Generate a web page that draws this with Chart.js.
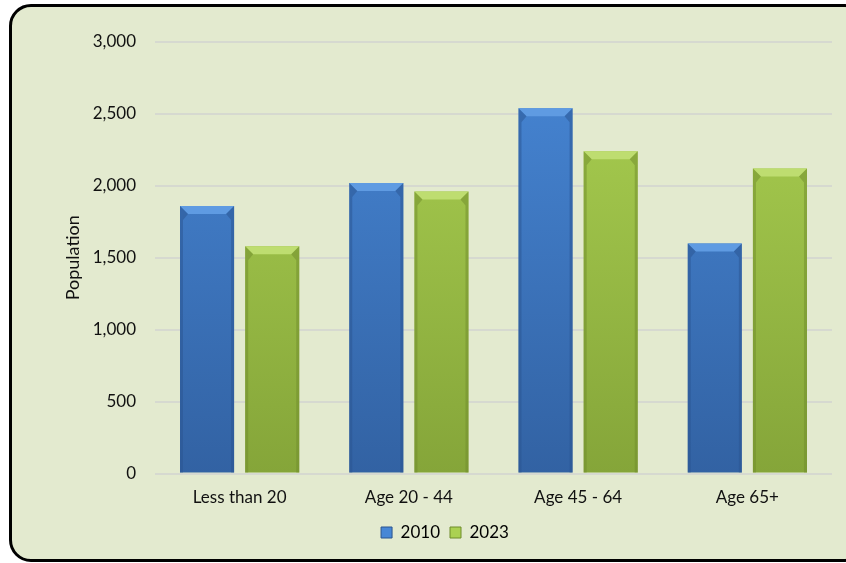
<!DOCTYPE html>
<html>
<head>
<meta charset="utf-8">
<script src="https://cdn.jsdelivr.net/npm/chart.js@4"></script>
<style>
  html, body { margin: 0; padding: 0; width: 846px; height: 563px; overflow: hidden; background: #ffffff; }
  #panel {
    position: absolute; left: 9px; top: 4px; width: 852px; height: 552px;
    border: 3px solid #000; border-radius: 22px; background: #e3eacf;
  }
  #wrap { position: absolute; left: 0; top: 0; width: 846px; height: 563px; }
</style>
</head>
<body>
<div id="panel"></div>
<div id="wrap"><canvas id="grafico" width="846" height="563"></canvas></div>
<script>
const categorias = ['Less than 20', 'Age 20 - 44', 'Age 45 - 64', 'Age 65+'];
const valores2010 = [1860, 2020, 2540, 1600];
const valores2023 = [1580, 1960, 2240, 2120];
const ticksY = [0, 500, 1000, 1500, 2000, 2500, 3000];

const azul = { topo: '#4787d6', base: '#3262a3', claro: '#5f9be2', escuro: '#2a548f' };
const verde = { topo: '#abd152', base: '#85a539', claro: '#bedd70', escuro: '#6f8c2b' };

// gradiente vertical do preenchimento
function gradiente(ctx, cor) {
    const area = ctx.chart.chartArea;
    if (!area) return cor.topo;
    const g = ctx.chart.ctx.createLinearGradient(0, area.top, 0, area.bottom);
    g.addColorStop(0, cor.topo);
    g.addColorStop(1, cor.base);
    return g;
}

// efeito de chanfro nas barras
const chanfro = {
    id: 'chanfro',
    afterDatasetsDraw(chart) {
        const ctx = chart.ctx;
        chart.data.datasets.forEach((ds, i) => {
            const cor = i === 0 ? azul : verde;
            chart.getDatasetMeta(i).data.forEach(bar => {
                const x0 = bar.x - bar.width / 2, x1 = bar.x + bar.width / 2;
                const y0 = bar.y, y1 = bar.base;
                const b = 8, s = 3;
                ctx.save();
                // faixa de cima
                ctx.fillStyle = cor.claro;
                ctx.beginPath();
                ctx.moveTo(x0, y0); ctx.lineTo(x1, y0); ctx.lineTo(x1 - b, y0 + b); ctx.lineTo(x0 + b, y0 + b);
                ctx.closePath(); ctx.fill();
                // laterais
                ctx.fillStyle = cor.escuro;
                ctx.globalAlpha = 0.5;
                ctx.beginPath();
                ctx.moveTo(x0, y0); ctx.lineTo(x0 + b, y0 + b); ctx.lineTo(x0 + s, y0 + b + 6); ctx.lineTo(x0 + s, y1); ctx.lineTo(x0, y1);
                ctx.closePath(); ctx.fill();
                ctx.beginPath();
                ctx.moveTo(x1, y0); ctx.lineTo(x1 - b, y0 + b); ctx.lineTo(x1 - s, y0 + b + 6); ctx.lineTo(x1 - s, y1); ctx.lineTo(x1, y1);
                ctx.closePath(); ctx.fill();
                ctx.restore();
            });
        });
    }
};

const grafico = new Chart(document.getElementById('grafico').getContext('2d'), {
    type: 'bar',
    data: {
        labels: categorias,
        datasets: [
            { label: '2010', data: valores2010, backgroundColor: ctx => gradiente(ctx, azul), borderWidth: 0 },
            { label: '2023', data: valores2023, backgroundColor: ctx => gradiente(ctx, verde), borderWidth: 0 }
        ]
    },
    options: {
        responsive: false,
        animation: false,
        devicePixelRatio: 1,
        categoryPercentage: 0.77,
        barPercentage: 0.83,
        layout: { padding: { left: 58, right: 14, top: 42, bottom: 12 } },
        plugins: {
            tooltip: { enabled: false },
            legend: {
                position: 'bottom',
                labels: {
                    boxWidth: 11, boxHeight: 11, padding: 10,
                    font: { family: 'Lato', size: 17 }, color: '#111',
                    generateLabels: chart => chart.data.datasets.map((ds, i) => ({
                        text: ds.label, fillStyle: i === 0 ? azul.topo : verde.topo,
                        strokeStyle: i === 0 ? azul.escuro : verde.escuro, lineWidth: 1, datasetIndex: i
                    }))
                }
            }
        },
        scales: {
            x: {
                grid: { display: false },
                border: { display: false },
                ticks: { font: { family: 'Lato', size: 17 }, color: '#111', padding: 6 }
            },
            y: {
                min: 0, max: 3000,
                afterBuildTicks: axis => { axis.ticks = ticksY.map(v => ({ value: v })); },
                afterFit: axis => { axis.width = 97; },
                grid: { color: '#d6d9d0', lineWidth: 2, drawTicks: false },
                border: { display: false },
                title: { display: true, text: 'Population', font: { family: 'Lato', size: 18 }, color: '#111', padding: { top: 4, bottom: 4 } },
                ticks: {
                    font: { family: 'Lato', size: 17 }, color: '#111', padding: 19,
                    callback: v => v.toLocaleString('en-US')
                }
            }
        }
    },
    plugins: [chanfro]
});
</script>
</body>
</html>
